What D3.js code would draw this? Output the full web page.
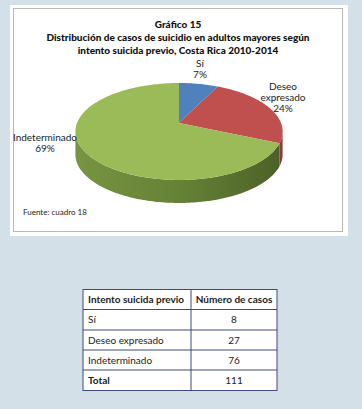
<!DOCTYPE html>
<html>
<head>
<meta charset="utf-8">
<script src="https://cdn.jsdelivr.net/npm/d3@7"></script>
<style>
  html, body { margin: 0; padding: 0; background: #d3e0e8; }
  svg { display: block; }
</style>
</head>
<body>
<svg id="chart" width="362" height="409"></svg>
<script>
const categories = ["Sí", "Deseo expresado", "Indeterminado"];
const counts = [8, 27, 76];
const sliceLabels = [["Sí", "7%"], ["Deseo", "expresado", "24%"], ["Indeterminado", "69%"]];
const titleLines = ["Gráfico 15",
  "Distribución de casos de suicidio en adultos mayores según",
  "intento suicida previo, Costa Rica 2010-2014"];
const source = "Fuente: cuadro 18";
const tableHeader = ["Intento suicida previo", "Número de casos"];

const topColors = ["#4f81bd", "#c0504d", "#9bbb59"];
const sideColors = ["#3a6294", "#8e3a38", "#6f8b3b"];
const font = "Lato, 'Open Sans', sans-serif";

const svg = d3.select("#chart");

// white chart panel
svg.append("rect").attr("x", 10).attr("y", 5).attr("width", 338).attr("height", 231).attr("fill", "#fff");
svg.append("rect").attr("x", 13.5).attr("y", 8.5).attr("width", 329).attr("height", 223)
  .attr("fill", "none").attr("stroke", "#b8b8b8").attr("stroke-width", 1);

// title
svg.append("g").selectAll("text").data(titleLines).join("text")
  .attr("x", 178).attr("y", (d, i) => 28 + i * 13)
  .attr("text-anchor", "middle")
  .style("font-family", font).style("font-weight", "900").style("font-size", "10px")
  .attr("fill", "#111")
  .text(d => d);

// 3D pie with simple perspective
const cx = 179, cy = 123, rx = 102, ry = 47, k = 0.175, depth = 23;
const proj = (a, dz) => {
  const u = Math.sin(a), v = -Math.cos(a);
  const w = 1 / (1 - k * v);
  return [cx + rx * u * w, cy + ry * v * w + dz];
};
const arcPts = (a0, a1, dz) => {
  const n = Math.max(2, Math.ceil((a1 - a0) / 0.02));
  return d3.range(n + 1).map(i => proj(a0 + (a1 - a0) * i / n, dz));
};

const pie = d3.pie().sort(null).value(d => d);
const arcs = pie(counts);
const line = d3.line();

const defs = svg.append("defs");
const grad = defs.append("linearGradient").attr("id", "sideGreen")
  .attr("x1", "0").attr("x2", "1").attr("y1", "0").attr("y2", "0");
grad.append("stop").attr("offset", "0%").attr("stop-color", "#779442");
grad.append("stop").attr("offset", "55%").attr("stop-color", "#648035");
grad.append("stop").attr("offset", "100%").attr("stop-color", "#4c6128");

const visA = Math.acos(-k), visB = 2 * Math.PI - visA;
const pieG = svg.append("g");

// sides
arcs.forEach((s, i) => {
  const a0 = Math.max(s.startAngle, visA), a1 = Math.min(s.endAngle, visB);
  if (a1 <= a0) return;
  const pts = arcPts(a0, a1, 0).concat(arcPts(a0, a1, depth).reverse());
  pieG.append("path").attr("d", line(pts) + "Z")
    .attr("fill", i === 2 ? "url(#sideGreen)" : sideColors[i]);
});

// tops
arcs.forEach((s, i) => {
  const pts = [[cx, cy]].concat(arcPts(s.startAngle, s.endAngle, 0));
  pieG.append("path").attr("d", line(pts) + "Z").attr("fill", topColors[i]);
});

// slice labels
const labelPos = [[200, 67], [283, 90], [45, 141]];
sliceLabels.forEach((lines, i) => {
  svg.append("text")
    .attr("text-anchor", "middle")
    .style("font-family", font).style("font-size", "10px").attr("fill", "#222")
    .selectAll("tspan").data(lines).join("tspan")
    .attr("x", labelPos[i][0]).attr("y", (d, j) => labelPos[i][1] + j * 11)
    .text(d => d);
});

svg.append("text").attr("x", 23).attr("y", 215)
  .style("font-family", font).style("font-size", "8px").attr("fill", "#222")
  .text(source);

// table
const tx0 = 83, tx1 = 191, tx2 = 277;
const rowY = [289.5, 309.5, 330, 350, 370, 390.5];
const rows = categories.map((c, i) => [c, counts[i]]).concat([["Total", d3.sum(counts)]]);
const tg = svg.append("g");
tg.append("rect").attr("x", tx0).attr("y", rowY[0]).attr("width", tx2 - tx0).attr("height", rowY[5] - rowY[0])
  .attr("fill", "#fff").attr("stroke", "#3f4a7a").attr("stroke-width", 1);
tg.selectAll("line.h").data(rowY.slice(1, 5)).join("line")
  .attr("x1", tx0).attr("x2", tx2).attr("y1", d => d).attr("y2", d => d)
  .attr("stroke", "#3f4a7a");
tg.append("line").attr("x1", tx1).attr("x2", tx1).attr("y1", rowY[0]).attr("y2", rowY[5]).attr("stroke", "#3f4a7a");

tableHeader.forEach((h, j) => {
  tg.append("text").attr("x", j === 0 ? 88 : (tx1 + tx2) / 2).attr("y", (rowY[0] + rowY[1]) / 2 + 3.5)
    .attr("text-anchor", j === 0 ? "start" : "middle")
    .style("font-family", font).style("font-weight", "bold").style("font-size", "10px").attr("fill", "#222")
    .text(h);
});
rows.forEach((r, i) => {
  const y = (rowY[i + 1] + rowY[i + 2]) / 2 + 3.5;
  const bold = i === rows.length - 1;
  tg.append("text").attr("x", 88).attr("y", y)
    .style("font-family", font).style("font-weight", bold ? "bold" : "normal").style("font-size", "10px").attr("fill", "#222")
    .text(r[0]);
  tg.append("text").attr("x", (tx1 + tx2) / 2).attr("y", y).attr("text-anchor", "middle")
    .style("font-family", font).style("font-size", "10px").attr("fill", "#222")
    .text(r[1]);
});
</script>
</body>
</html>
